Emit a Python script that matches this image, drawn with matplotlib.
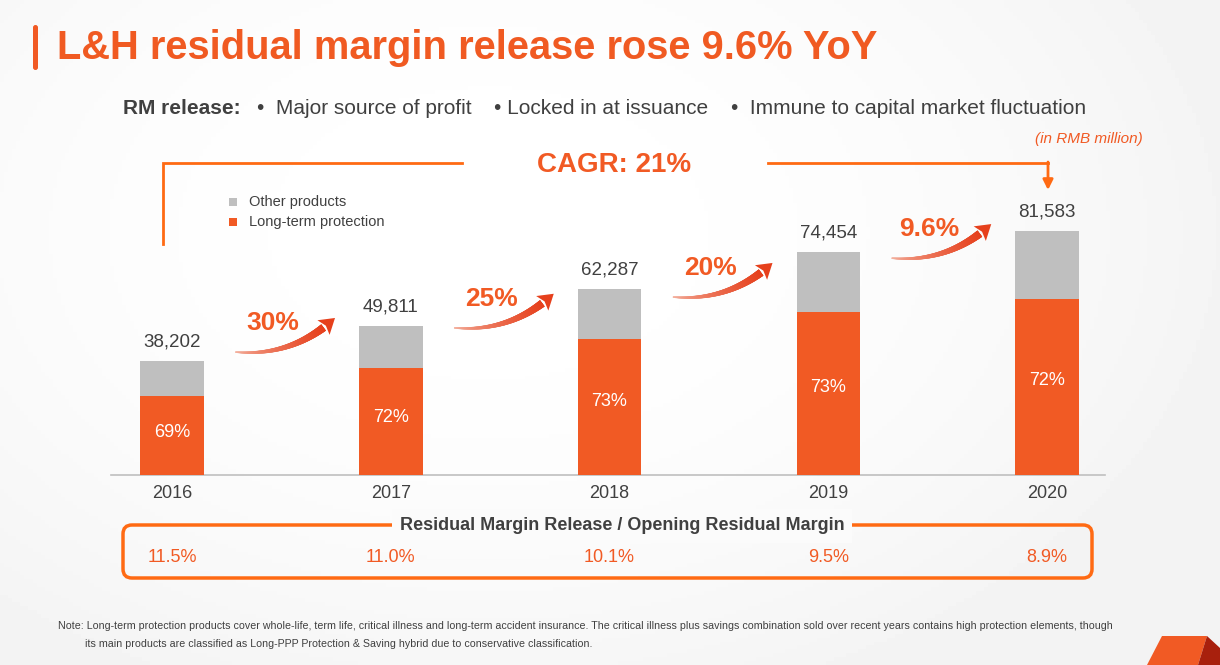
import numpy as np
import matplotlib.pyplot as plt
import matplotlib.transforms as mtransforms
from matplotlib.collections import PolyCollection
from matplotlib.colors import to_rgb
from matplotlib.patches import FancyBboxPatch, Polygon, Rectangle

plt.rcParams['font.family'] = ['Liberation Sans', 'DejaVu Sans']

# ---------------- data ----------------
years = ['2016', '2017', '2018', '2019', '2020']
totals = [38202, 49811, 62287, 74454, 81583]          # RMB million
protection_share = [69, 72, 73, 73, 72]               # % long-term protection
growth_labels = ['30%', '25%', '20%', '9.6%']
rm_ratio = ['11.5%', '11.0%', '10.1%', '9.5%', '8.9%']

# layout only: height where each growth arrow starts
arrow_start = [41100, 49200, 59500, 72500]

ORANGE = '#F15A24'
GREY = '#BFBFBF'
TEXT = '#404040'
LINE = '#FF6A13'

W, H = 1220, 665
fig = plt.figure(figsize=(12.2, 6.65), dpi=100)


def shade_at(gx, gy):
    return 1 - 0.05 * np.clip(0.6 * (gx + 0.2)**2 + 0.4 * (gy + 0.3)**2, 0, 1)


# background / decoration layer in pixel coordinates
bg = fig.add_axes([0, 0, 1, 1], zorder=0)
bg.set_xlim(0, W)
bg.set_ylim(H, 0)
bg.axis('off')
gx, gy = np.meshgrid(np.linspace(-1, 1, 300), np.linspace(-1, 1, 170))
bg.imshow(shade_at(gx, gy), cmap='gray', vmin=0, vmax=1, extent=(0, W, H, 0),
          aspect='auto', zorder=0)

# title
bg.add_patch(FancyBboxPatch((33, 25), 5, 45, boxstyle='round,pad=0,rounding_size=2.5',
                            fc=ORANGE, ec='none'))
bg.text(57, 48, 'L&H residual margin release rose 9.6% YoY', fontsize=28.7,
        fontweight='bold', color='#F05A22', va='center')

# subtitle
bg.text(123, 108, 'RM release:', fontsize=15, fontweight='bold', color=TEXT, va='center')
bg.text(257, 108, '•  Major source of profit', fontsize=15, color=TEXT, va='center')
bg.text(494, 108, '• Locked in at issuance', fontsize=15, color=TEXT, va='center')
bg.text(731, 108, '•  Immune to capital market fluctuation', fontsize=15, color=TEXT, va='center')
bg.text(1143, 139, '(in RMB million)', fontsize=11, style='italic', color=ORANGE,
        ha='right', va='center')

# CAGR bracket
bg.plot([163, 163, 462], [244, 163, 163], color=LINE, lw=2, solid_joinstyle='miter')
bg.plot([768, 1048], [163, 163], color=LINE, lw=2)
bg.annotate('', xy=(1048, 190), xytext=(1048, 162),
            arrowprops=dict(arrowstyle='-|>,head_length=0.6,head_width=0.3', color=LINE,
                            lw=2, shrinkA=0, shrinkB=0))
bg.text(614, 165, 'CAGR: 21%', fontsize=20, fontweight='bold', color=ORANGE,
        ha='center', va='center')

# legend
bg.add_patch(Rectangle((229, 198), 8, 8, fc=GREY, ec='none'))
bg.add_patch(Rectangle((229, 218), 8, 8, fc=ORANGE, ec='none'))
bg.text(249, 202, 'Other products', fontsize=10.5, color=TEXT, va='center')
bg.text(249, 222, 'Long-term protection', fontsize=10.5, color=TEXT, va='center')

# ---------------- bars ----------------
scale = 81583 / 244.0   # units per pixel
ax = fig.add_axes([111 / W, 190 / H, 994 / W, 345 / H], zorder=2)
ax.set_facecolor('none')
x = np.arange(len(years))
tot = np.array(totals, dtype=float)
prot = tot * np.array(protection_share) / 100
ax.bar(x, prot, 0.29, color=ORANGE, zorder=3)
ax.bar(x, tot - prot, 0.29, bottom=prot, color=GREY, zorder=3)
ax.set_xlim(-0.279, 4.265)
ax.set_ylim(0, 345 * scale)

for i in x:
    ax.annotate(f'{totals[i]:,}', (i, totals[i]), xytext=(0, 19), textcoords='offset pixels',
                ha='center', va='center', fontsize=13.5, color=TEXT)
    ax.text(i, prot[i] * 0.54, f'{protection_share[i]}%', ha='center', va='center',
            fontsize=13, color='white', zorder=4)


def growth_arrow(p0, tip, rad=0.22, w0=1.0, w1=7.5, head_len=15, head_w=19,
                 c0='#F5BBAA', c1='#E6401C'):
    """tapered curved arrow with a colour gradient, in display pixels"""
    p0, tip = np.asarray(p0, float), np.asarray(tip, float)
    d = tip - p0
    ctrl = (p0 + tip) / 2 + rad * np.array([d[1], -d[0]])
    t = np.linspace(0, 1, 400)[:, None]
    pts = (1 - t)**2 * p0 + 2 * (1 - t) * t * ctrl + t**2 * tip
    seg = np.hypot(*np.diff(pts, axis=0).T)
    s = np.concatenate([[0], np.cumsum(seg)])
    k = np.searchsorted(s, s[-1] - head_len)
    body = pts[:k + 1]
    tang = np.gradient(body, axis=0)
    tang /= np.hypot(*tang.T)[:, None]
    nrm = np.column_stack([-tang[:, 1], tang[:, 0]])
    frac = s[:k + 1] / s[k]
    wid = (w0 + (w1 - w0) * frac)[:, None] / 2
    left, right = body + nrm * wid, body - nrm * wid
    quads = [np.array([left[j], left[j + 1], right[j + 1], right[j]]) for j in range(k)]
    a, b = np.array(to_rgb(c0)), np.array(to_rgb(c1))
    cols = [a + (b - a) * min(1, frac[j] ** 0.6) for j in range(k)]
    pc = PolyCollection(quads, facecolors=cols, edgecolors=cols, linewidths=0.3,
                        transform=mtransforms.IdentityTransform(), zorder=3)
    fig.add_artist(pc)
    base = body[-1]
    dirv = (tip - base) / np.hypot(*(tip - base))
    nv = np.array([-dirv[1], dirv[0]])
    head = Polygon([base + nv * head_w / 2, tip, base - nv * head_w / 2,
                    base + dirv * 3], closed=True, fc=c1, ec='none',
                   transform=mtransforms.IdentityTransform(), zorder=3)
    fig.add_artist(head)


for i, lab in enumerate(growth_labels):
    y0 = arrow_start[i]
    p0 = ax.transData.transform((i + 0.29, y0))
    p1 = ax.transData.transform((i + 0.745, y0 + 11400))
    growth_arrow(p0, p1)
    ax.text(i + 0.46, y0 + 9600, lab, ha='center', va='center', fontsize=19,
            fontweight='bold', color=ORANGE)

ax.set_xticks(x, years)
ax.set_yticks([])
ax.tick_params(axis='x', length=0, pad=7, labelsize=13, labelcolor=TEXT)
for s in ['left', 'right', 'top']:
    ax.spines[s].set_visible(False)
ax.spines['bottom'].set_color(GREY)
ax.spines['bottom'].set_linewidth(1.2)

# ---------------- ratio box ----------------
bg.add_patch(FancyBboxPatch((123, 525), 969, 53, boxstyle='round,pad=0,rounding_size=9',
                            fc='none', ec=LINE, lw=2.5))
g = float(shade_at(622 / (W / 2) - 1, 526 / (H / 2) - 1))
bg.text(622, 526, 'Residual Margin Release / Opening Residual Margin', fontsize=13,
        fontweight='bold', color=TEXT, ha='center', va='center',
        bbox=dict(boxstyle='square,pad=0.45', fc=(g, g, g), ec='none'))
mixed = mtransforms.blended_transform_factory(ax.transData, bg.transData)
for i, r in enumerate(rm_ratio):
    fig.text(i, 557, r, transform=mixed, fontsize=13, color=ORANGE, ha='center',
             va='center', zorder=5)

# ---------------- note ----------------
bg.text(58, 626, 'Note: Long-term protection products cover whole-life, term life, critical illness and '
        'long-term accident insurance. The critical illness plus savings combination sold over recent '
        'years contains high protection elements, though', fontsize=7.65, color=TEXT, va='center')
bg.text(85, 644, 'its main products are classified as Long-PPP Protection & Saving hybrid due to '
        'conservative classification.', fontsize=7.65, color=TEXT, va='center')

# corner logo shape
bg.add_patch(Polygon([(1147, 665), (1162, 636), (1207, 636), (1198, 665)], closed=True,
                     fc='#F15A24', ec='none'))
bg.add_patch(Polygon([(1207, 636), (1220, 648), (1220, 665), (1198, 665)], closed=True,
                     fc='#A8200D', ec='none'))

fig.savefig('out.png', dpi=100)
